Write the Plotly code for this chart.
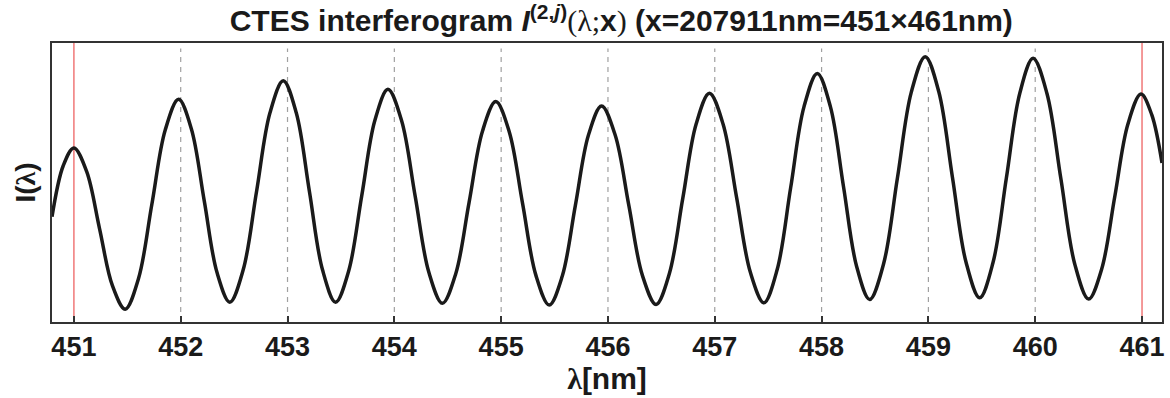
import plotly.graph_objects as go

# Wavelength samples (nm) and normalised intensity
wavelength = [
    450.795, 450.90, 451.00, 451.12, 451.24, 451.36, 451.48,
    451.605, 451.73, 451.855, 451.98,
    452.10, 452.22, 452.34, 452.46,
    452.585, 452.71, 452.835, 452.96,
    453.0825, 453.205, 453.3275, 453.45,
    453.5725, 453.695, 453.8175, 453.94,
    454.0675, 454.195, 454.3225, 454.45,
    454.575, 454.70, 454.825, 454.95,
    455.075, 455.20, 455.325, 455.45,
    455.5725, 455.695, 455.8175, 455.94,
    456.0675, 456.195, 456.3225, 456.45,
    456.575, 456.70, 456.825, 456.95,
    457.0775, 457.205, 457.3325, 457.46,
    457.585, 457.71, 457.835, 457.96,
    458.0825, 458.205, 458.3275, 458.45,
    458.58, 458.71, 458.84, 458.97,
    459.0975, 459.225, 459.3525, 459.48,
    459.605, 459.73, 459.855, 459.98,
    460.11, 460.24, 460.37, 460.50,
    460.6225, 460.745, 460.8675, 460.99,
    461.09, 461.187,
]
intensity = [
    0.377, 0.560, 0.624, 0.539, 0.335, 0.131, 0.046,
    0.156, 0.422, 0.688, 0.798,
    0.692, 0.435, 0.177, 0.071,
    0.187, 0.468, 0.749, 0.865,
    0.749, 0.468, 0.187, 0.071,
    0.183, 0.453, 0.722, 0.834,
    0.722, 0.451, 0.179, 0.067,
    0.173, 0.429, 0.684, 0.790,
    0.683, 0.426, 0.168, 0.061,
    0.165, 0.418, 0.670, 0.774,
    0.670, 0.419, 0.167, 0.063,
    0.174, 0.442, 0.709, 0.820,
    0.710, 0.445, 0.179, 0.069,
    0.189, 0.480, 0.771, 0.891,
    0.772, 0.486, 0.200, 0.081,
    0.208, 0.516, 0.824, 0.951,
    0.825, 0.519, 0.214, 0.087,
    0.213, 0.516, 0.819, 0.945,
    0.819, 0.514, 0.208, 0.082,
    0.190, 0.450, 0.709, 0.817,
    0.744, 0.570,
]

tick_values = [451, 452, 453, 454, 455, 456, 457, 458, 459, 460, 461]
tick_labels = ["451", "452", "453", "454", "455", "456", "457", "458", "459", "460", "461"]
dashed_lines = [452, 453, 454, 455, 456, 457, 458, 459, 460]
red_lines = [451, 461]

x_range = [450.795, 461.187]
y_range = [0, 1]

fig = go.Figure()
fig.add_trace(go.Scatter(
    x=wavelength, y=intensity, mode="lines",
    line=dict(color="#1a1a1a", width=3.5, shape="spline", smoothing=1.0),
    hoverinfo="skip", showlegend=False,
))

shapes = []
for xv in dashed_lines:
    shapes.append(dict(type="line", xref="x", yref="paper", x0=xv, x1=xv, y0=0, y1=0.98,
                       line=dict(color="#a0a0a0", width=1.2, dash="5px,5px"), layer="below"))
for xv in red_lines:
    shapes.append(dict(type="line", xref="x", yref="paper", x0=xv, x1=xv, y0=0, y1=1,
                       line=dict(color="#f07878", width=1.5), layer="below"))

sans = "Liberation Sans, Arial, sans-serif"
serif_span = "<span style=\"font-family:'Liberation Serif';font-weight:normal\">"
title_text = ("<b>CTES interferogram <i>I</i><sup>(2,<i>j</i>)</sup>"
              f"{serif_span}(λ;</span>x{serif_span})</span>"
              " (x=207911nm=451×461nm)</b>")

fig.update_layout(
    width=1170, height=398,
    margin=dict(l=52, r=5, t=43, b=76),
    paper_bgcolor="white", plot_bgcolor="white",
    shapes=shapes,
    title=dict(text=title_text, x=0.531, xanchor="center", y=0.948, yanchor="middle",
               font=dict(family=sans, size=30, color="#1a1a1a")),
    xaxis=dict(
        range=x_range, tickvals=tick_values, ticktext=tick_labels,
        ticks="inside", ticklen=6, tickwidth=1.5, tickcolor="#333333",
        showgrid=False, zeroline=False,
        showline=True, linecolor="#333333", linewidth=1.5, mirror=True,
        tickfont=dict(family=sans, size=27, color="#1a1a1a", weight="bold"),
        title=dict(text="<b><span style=\"font-family:'Liberation Serif'\">λ</span>[nm]</b>",
                   font=dict(family=sans, size=30, color="#1a1a1a"),
                   standoff=0),
    ),
    yaxis=dict(
        range=y_range, showticklabels=False, ticks="",
        showgrid=False, zeroline=False,
        showline=True, linecolor="#333333", linewidth=1.5, mirror=True,
        title=dict(text="<b>I(<span style=\"font-family:'Liberation Serif'\">λ</span>)</b>",
                   font=dict(family=sans, size=28, color="#1a1a1a"),
                   standoff=6),
    ),
)

fig.write_html("out.html")
